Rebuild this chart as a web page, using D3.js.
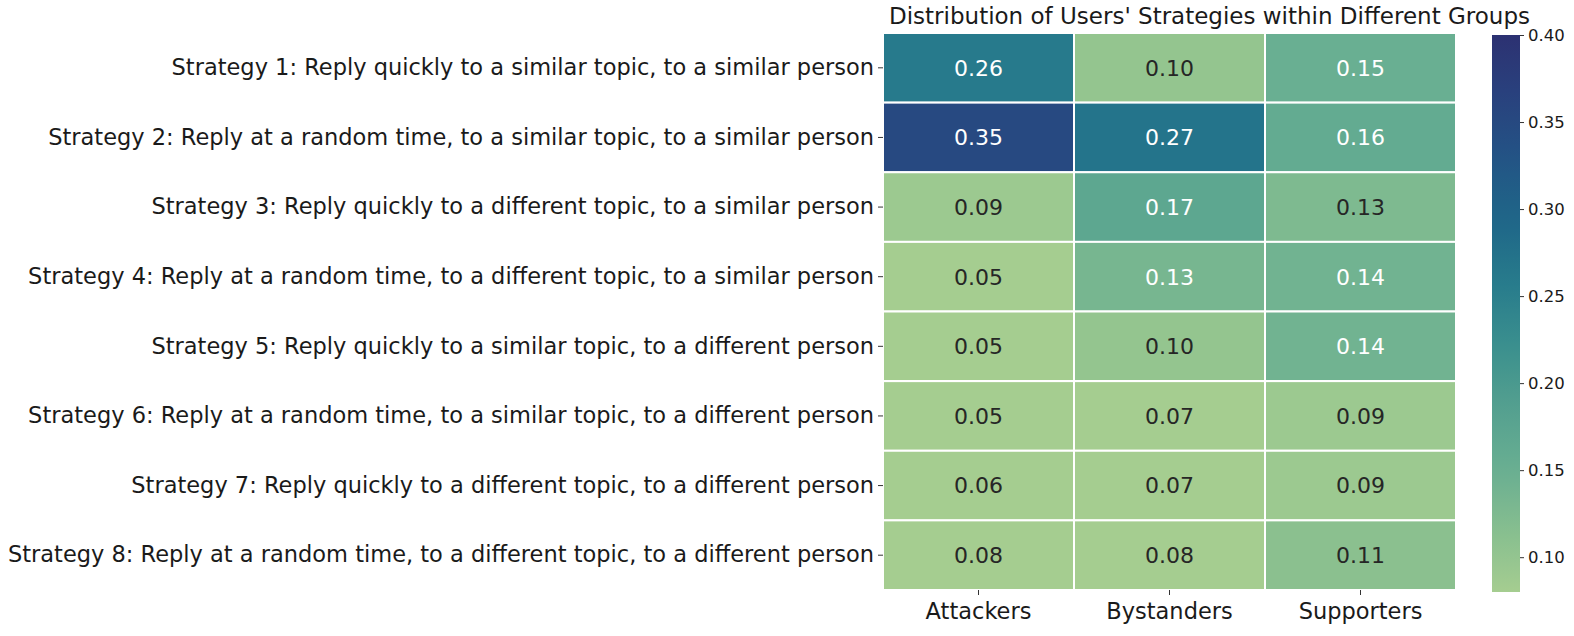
<!DOCTYPE html>
<html>
<head>
<meta charset="utf-8">
<script src="https://cdn.jsdelivr.net/npm/d3@7"></script>
<style>
  body { margin: 0; background: #fff; }
  text { font-family: "DejaVu Sans", sans-serif; }
</style>
</head>
<body>
<svg width="1574" height="636"></svg>
<script>
// data
const groups = ["Attackers", "Bystanders", "Supporters"];
const strategies = [
  "Strategy 1: Reply quickly to a similar topic, to a similar person",
  "Strategy 2: Reply at a random time, to a similar topic, to a similar person",
  "Strategy 3: Reply quickly to a different topic, to a similar person",
  "Strategy 4: Reply at a random time, to a different topic, to a similar person",
  "Strategy 5: Reply quickly to a similar topic, to a different person",
  "Strategy 6: Reply at a random time, to a similar topic, to a different person",
  "Strategy 7: Reply quickly to a different topic, to a different person",
  "Strategy 8: Reply at a random time, to a different topic, to a different person"
];
const attackers  = [0.26, 0.35, 0.09, 0.05, 0.05, 0.05, 0.06, 0.08];
const bystanders = [0.10, 0.27, 0.17, 0.133, 0.10, 0.07, 0.07, 0.08];
const supporters = [0.15, 0.16, 0.125, 0.14, 0.14, 0.09, 0.09, 0.11];
const colorTicks = [0.10, 0.15, 0.20, 0.25, 0.30, 0.35, 0.40];
const vmin = 0.08, vmax = 0.40;

const series = [attackers, bystanders, supporters];
const cells = [];
strategies.forEach((s, i) => {
  groups.forEach((g, j) => cells.push({ row: s, col: g, value: series[j][i] }));
});

const svg = d3.select("svg");
const margin = { top: 33, left: 883, right: 1456, bottom: 590 };

// approximation of seaborn "crest"
const crestStops = ["#a5cd90", "#86be8f", "#68ae92", "#54a08f", "#3a8f8e", "#277b8c", "#1f6688", "#235485", "#29427e", "#2c3172"];
const color = d3.scaleLinear()
  .domain(crestStops.map((c, i) => vmin + (vmax - vmin) * i / (crestStops.length - 1)))
  .range(crestStops)
  .interpolate(d3.interpolateRgb)
  .clamp(true);

const x = d3.scaleBand().domain(groups).range([margin.left, margin.right]);
const y = d3.scaleBand().domain(strategies).range([margin.top, margin.bottom]);

function luminance(c) {
  const rgb = d3.rgb(c);
  const f = v => { v /= 255; return v <= 0.03928 ? v / 12.92 : Math.pow((v + 0.055) / 1.055, 2.4); };
  return 0.2126 * f(rgb.r) + 0.7152 * f(rgb.g) + 0.0722 * f(rgb.b);
}

svg.append("g").selectAll("rect")
  .data(cells)
  .enter()
  .append("rect")
  .attr("x", d => x(d.col))
  .attr("y", d => y(d.row))
  .attr("width", x.bandwidth())
  .attr("height", y.bandwidth())
  .attr("fill", d => color(d.value))
  .attr("stroke", "white")
  .attr("stroke-width", 2);

svg.append("g").selectAll("text")
  .data(cells)
  .enter()
  .append("text")
  .attr("x", d => x(d.col) + x.bandwidth() / 2)
  .attr("y", d => y(d.row) + y.bandwidth() / 2)
  .attr("dy", "0.36em")
  .attr("text-anchor", "middle")
  .attr("font-size", 22)
  .attr("fill", d => luminance(color(d.value)) > 0.408 ? "#262626" : "white")
  .text(d => d.value.toFixed(2));

// axes
const yAxis = svg.append("g")
  .attr("transform", `translate(${margin.left},0)`)
  .call(d3.axisLeft(y).tickSize(5).tickPadding(4));
yAxis.select(".domain").remove();
yAxis.selectAll("text").attr("font-size", 22.5).attr("fill", "#1a1a1a");
yAxis.selectAll("line").attr("stroke", "#333");

const xAxis = svg.append("g")
  .attr("transform", `translate(0,${margin.bottom})`)
  .call(d3.axisBottom(x).tickSize(5).tickPadding(8));
xAxis.select(".domain").remove();
xAxis.selectAll("text").attr("font-size", 22.5).attr("fill", "#1a1a1a");
xAxis.selectAll("line").attr("stroke", "#333");

// title
svg.append("text")
  .attr("x", (margin.left + margin.right) / 2 + 40)
  .attr("y", 24)
  .attr("text-anchor", "middle")
  .attr("font-size", 23)
  .attr("fill", "#1a1a1a")
  .text("Distribution of Users' Strategies within Different Groups");

// colorbar
const cbX = 1492, cbW = 28, cbTop = 35, cbBottom = 592;
const cbScale = d3.scaleLinear().domain([vmin, vmax]).range([cbBottom, cbTop]);

const grad = svg.append("defs").append("linearGradient")
  .attr("id", "crest")
  .attr("x1", 0).attr("y1", 1).attr("x2", 0).attr("y2", 0);
d3.range(0, 1.0001, 0.05).forEach(t => {
  grad.append("stop")
    .attr("offset", t)
    .attr("stop-color", color(vmin + t * (vmax - vmin)));
});

svg.append("rect")
  .attr("x", cbX)
  .attr("y", cbTop)
  .attr("width", cbW)
  .attr("height", cbBottom - cbTop)
  .attr("fill", "url(#crest)");

const cbAxis = svg.append("g")
  .attr("transform", `translate(${cbX + cbW},0)`)
  .call(d3.axisRight(cbScale).tickValues(colorTicks).tickFormat(d3.format(".2f")).tickSize(4).tickPadding(4));
cbAxis.select(".domain").remove();
cbAxis.selectAll("text").attr("font-size", 16.5).attr("fill", "#1a1a1a");
cbAxis.selectAll("line").attr("stroke", "#333");
</script>
</body>
</html>
